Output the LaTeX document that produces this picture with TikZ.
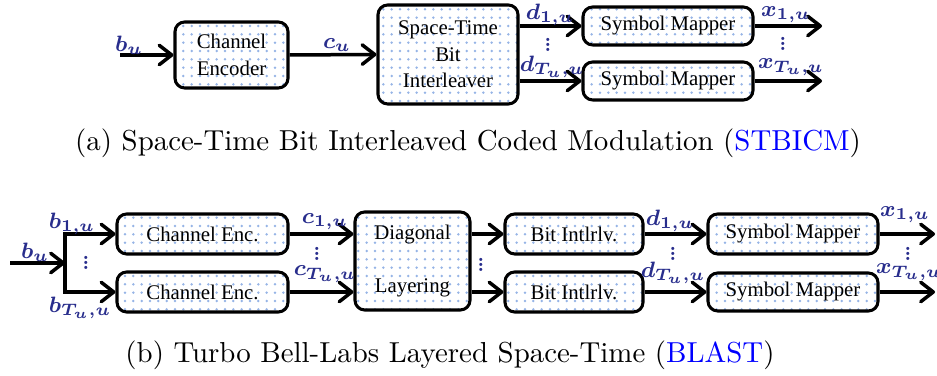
\documentclass[tikz,border=0pt]{standalone}
\usepackage{fontspec}
\newfontfamily\tms{Liberation Serif}
\usetikzlibrary{arrows.meta,patterns}
\definecolor{lbl}{RGB}{40,45,140}
\definecolor{dotc}{RGB}{150,180,230}
\definecolor{capblue}{RGB}{0,0,255}
\newcommand{\lab}[1]{{\boldmath$#1$}}
\newcommand{\vdt}{\vbox{\baselineskip=1.9pt\lineskiplimit=-10pt\hbox{.}\hbox{.}\hbox{.}}}
\begin{document}
\begin{tikzpicture}[x=0.36pt,y=-0.36pt,
  blk/.style 2 args={draw, line width=1.1pt, rounded corners=3.5pt, pattern=dots, pattern color=dotc,
    minimum width=#1*0.36pt, minimum height=#2*0.36pt, inner sep=0pt, align=center,
    font=\tms\fontsize{7.5}{9.5}\selectfont},
  arr/.style={line width=1.26pt, -{Straight Barb[length=4.5pt,width=7pt,round]}},
  lb/.style={text=lbl, inner sep=0pt, font=\fontsize{8.2}{9}\selectfont},
  vd/.style={text=lbl, inner sep=0pt, font=\bfseries\fontsize{7}{8}\selectfont},
  captxt/.style={inner sep=0pt, font=\fontsize{10.4}{12}\selectfont}]
\useasboundingbox (0,0) rectangle (937,376);
% ---------------- (a)
\node[blk={113}{66}] (enc) at (231.5,55) {Channel\\Encoder};
\node[blk={140}{99}] (stbi) at (448,54.5) {Space-Time\\Bit\\Interleaver};
\node[blk={170}{38}] (sm1) at (668,26) {Symbol Mapper};
\node[blk={170}{38}] (sm2) at (668,81) {Symbol Mapper};
\coordinate (ain) at (120,55);
\coordinate (xo1) at (822,26);
\coordinate (xo2) at (822,81);
\draw[arr] (ain) -- (enc.west);
\draw[arr] (enc.east) -- (stbi.west);
\draw[arr] (stbi.east |- sm1.west) -- (sm1.west);
\draw[arr] (stbi.east |- sm2.west) -- (sm2.west);
\draw[arr] (sm1.east) -- (xo1);
\draw[arr] (sm2.east) -- (xo2);
\node[lb] (la1) at (129,45) {\lab{b_u}};
\node[lb] (la2) at (337,45) {\lab{c_u}};
\node[lb] (la3) at (550,15) {\lab{d_{1,u}}};
\node[vd] (la4) at (548,45) {\vdt};
\node[lb] (la5) at (552,67) {\lab{d_{T_u,u}}};
\node[lb] (la6) at (786,15) {\lab{x_{1,u}}};
\node[vd] (la7) at (783,44) {\vdt};
\node[lb] (la8) at (791,67) {\lab{x_{T_u,u}}};
\node[captxt] (capa) at (468,143) {(a) Space-Time Bit Interleaved Coded Modulation (\textcolor{capblue}{STBICM})};
% ---------------- (b)
\node[blk={171}{40}] (ce1) at (202.5,234) {Channel Enc.};
\node[blk={171}{40}] (ce2) at (202.5,292) {Channel Enc.};
\node[blk={115}{98}] (dl) at (412.5,261) {Diagonal\\[9.5pt]Layering};
\node[blk={138}{40}] (bi1) at (574,234) {Bit Intlrlv.};
\node[blk={138}{40}] (bi2) at (574,292) {Bit Intlrlv.};
\node[blk={170}{40}] (sm3) at (793,234) {Symbol Mapper};
\node[blk={170}{38}] (sm4) at (793,292) {Symbol Mapper};
\coordinate (bin) at (10,263);
\coordinate (sp) at (65,263);
\coordinate (xo3) at (935,234);
\coordinate (xo4) at (935,292);
\draw[arr] (bin) -- (sp);
\draw[arr] (sp) |- (ce1.west);
\draw[arr] (sp) |- (ce2.west);
\draw[arr] (ce1.east) -- (dl.west |- ce1.east);
\draw[arr] (ce2.east) -- (dl.west |- ce2.east);
\draw[arr] (dl.east |- bi1.west) -- (bi1.west);
\draw[arr] (dl.east |- bi2.west) -- (bi2.west);
\draw[arr] (bi1.east) -- (sm3.west);
\draw[arr] (bi2.east) -- (sm4.west);
\draw[arr] (sm3.east) -- (xo3);
\draw[arr] (sm4.east) -- (xo4);
\node[lb] (lb1) at (35,252) {\lab{b_u}};
\node[lb] (lb2) at (72,224) {\lab{b_{1,u}}};
\node[vd] (lb3) at (86,263) {\vdt};
\node[lb] (lb4) at (80,308) {\lab{b_{T_u,u}}};
\node[lb] (lb5) at (325,222) {\lab{c_{1,u}}};
\node[vd] (lb6) at (317,254) {\vdt};
\node[lb] (lb7) at (325,274) {\lab{c_{T_u,u}}};
\node[vd] (lb8) at (481,265) {\vdt};
\node[lb] (lb9) at (670,221) {\lab{d_{1,u}}};
\node[vd] (lb10) at (673,254) {\vdt};
\node[lb] (lb11) at (673,273) {\lab{d_{T_u,u}}};
\node[lb] (lb12) at (905,215) {\lab{x_{1,u}}};
\node[vd] (lb13) at (908,254) {\vdt};
\node[lb] (lb14) at (909,272) {\lab{x_{T_u,u}}};
\node[captxt] (capb) at (450,355) {(b) Turbo Bell-Labs Layered Space-Time (\textcolor{capblue}{BLAST})};
\end{tikzpicture}
\end{document}
